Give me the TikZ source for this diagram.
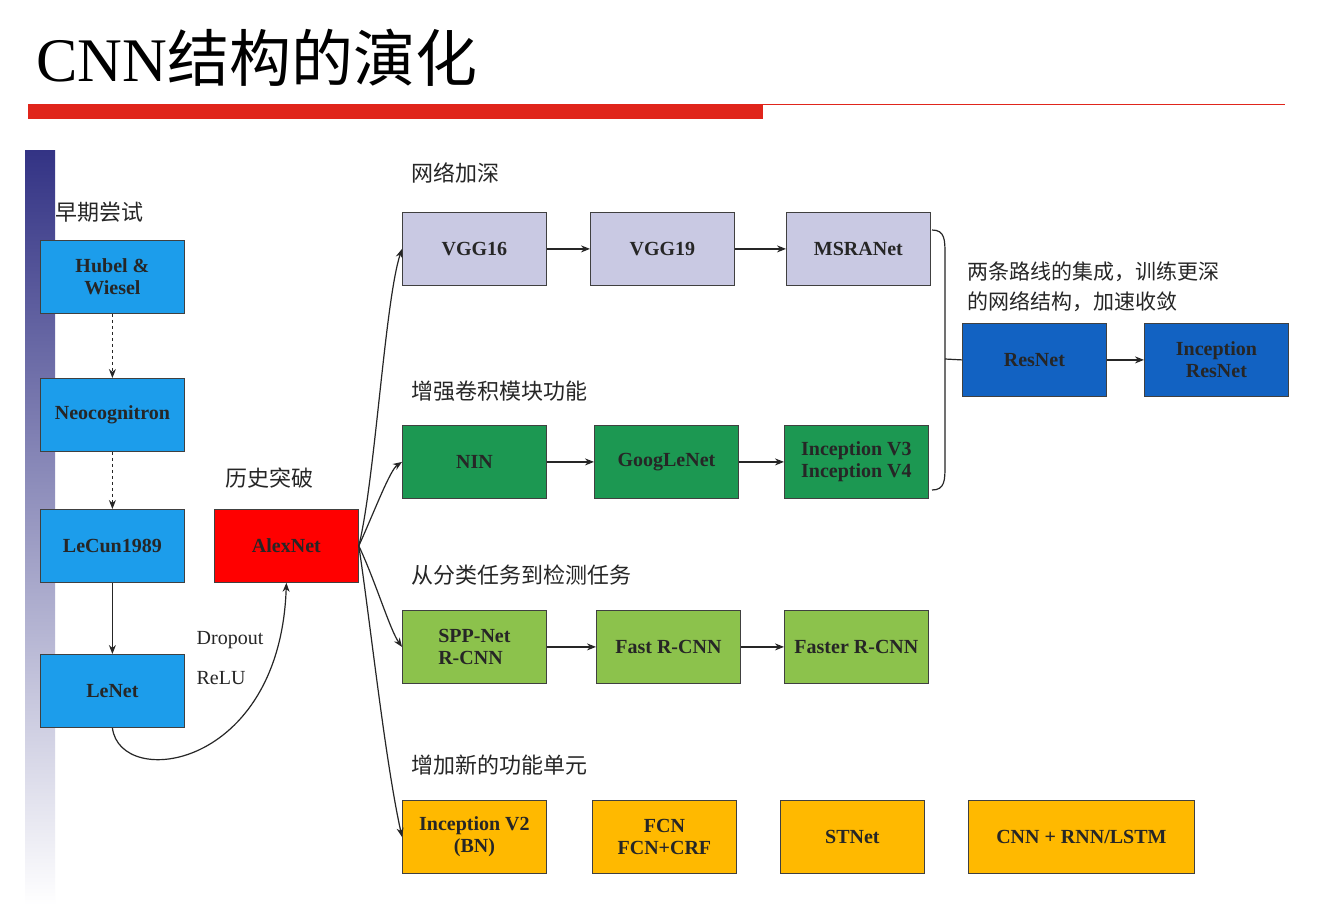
\documentclass[tikz,border=0pt]{standalone}
\usepackage{fontspec}
\setmainfont{Liberation Serif}
\newfontfamily\cjk{Noto Sans CJK SC}
\usetikzlibrary{arrows.meta}
\definecolor{lblue}{HTML}{1C9DEB}
\definecolor{lav}{HTML}{C9C9E3}
\definecolor{dgreen}{HTML}{1C9852}
\definecolor{lgreen}{HTML}{8CC24C}
\definecolor{orng}{HTML}{FFB900}
\definecolor{dblue}{HTML}{1262C2}
\definecolor{redbar}{HTML}{E0251B}
\begin{document}
\begin{tikzpicture}[x=1pt,y=-1pt,
  bx/.style={draw=black!75,line width=0.8pt,minimum width=144pt,minimum height=73pt,anchor=north west,align=center,inner sep=2pt,font=\fontsize{20}{22}\selectfont\bfseries,text=black!85},
  lab/.style={font=\cjk\fontsize{22}{26}\selectfont,text=black!85,anchor=west},
  arr/.style={-{Stealth[length=9pt,width=7pt]},line width=1.2pt,black!85}]
\useasboundingbox (0,0) rectangle (1324,908);
\fill[white] (0,0) rectangle (1324,908);
\node[anchor=west,font=\fontsize{62}{70}\selectfont,inner sep=0] (title) at (36,58) {CNN{\cjk 结构的演化}};
\fill[redbar] (28,104) rectangle (763,119);
\draw[redbar,line width=1pt] (763,104) -- (1285,104);
\shade[top color=blue!40!black!80,bottom color=white] (25,150) rectangle (55,905);
\node[lab] (t1) at (52,212) {早期尝试};
\node[bx,fill=lblue] (hub) at (40,240) {Hubel \&\\Wiesel};
\node[bx,fill=lblue] (neo) at (40,378) {Neocognitron};
\node[bx,fill=lblue] (lec) at (40,509) {LeCun1989};
\node[bx,fill=lblue] (len) at (40,654) {LeNet};
\draw[arr,dashed] (hub) -- (neo);
\draw[arr,dashed] (neo) -- (lec);
\draw[arr] (lec) -- (len);
\node[lab] (t2) at (222,478) {历史突破};
\node[bx,fill=red] (alex) at (214,509) {AlexNet};
\draw[arr] (len.south) .. controls (120,790) and (280,770) .. (alex.south);
\node[font=\fontsize{20}{22}\selectfont,text=black!85] (d) at (230,640) {Dropout};
\node[font=\fontsize{20}{22}\selectfont,text=black!85] (r) at (221,678) {ReLU};
\node[lab] (t3) at (408,173) {网络加深};
\node[bx,fill=lav] (vgg16) at (402,212) {VGG16};
\node[bx,fill=lav] (vgg19) at (590,212) {VGG19};
\node[bx,fill=lav] (msra) at (786,212) {MSRANet};
\node[lab] (t4) at (408,391) {增强卷积模块功能};
\node[bx,fill=dgreen] (nin) at (402,425) {NIN};
\node[bx,fill=dgreen] (goog) at (594,425) {GoogLeNet};
\node[bx,fill=dgreen] (incv) at (784,425) {Inception V3\\Inception V4};
\node[lab] (t5) at (408,575) {从分类任务到检测任务};
\node[bx,fill=lgreen,align=left] (spp) at (402,610) {SPP-Net\\R-CNN};
\node[bx,fill=lgreen] (fast) at (596,610) {Fast R-CNN};
\node[bx,fill=lgreen] (faster) at (784,610) {Faster R-CNN};
\node[lab] (t6) at (408,765) {增加新的功能单元};
\node[bx,fill=orng] (inc2) at (402,800) {Inception V2\\(BN)};
\node[bx,fill=orng] (fcn) at (592,800) {FCN\\FCN+CRF};
\node[bx,fill=orng] (st) at (780,800) {STNet};
\node[bx,fill=orng,minimum width=226pt] (rnn) at (968,800) {CNN + RNN/LSTM};
\node[bx,fill=dblue] (res) at (962,323) {ResNet};
\node[bx,fill=dblue] (incres) at (1144,323) {Inception\\ResNet};
\node[lab,anchor=north west,align=left,font=\cjk\fontsize{21}{30}\selectfont] (t7) at (964,258) {两条路线的集成，训练更深\\的网络结构，加速收敛};
\draw[arr] (vgg16) -- (vgg19); \draw[arr] (vgg19) -- (msra);
\draw[arr] (nin) -- (goog); \draw[arr] (goog) -- (incv);
\draw[arr] (spp) -- (fast); \draw[arr] (fast) -- (faster);
\draw[arr] (res) -- (incres);
\coordinate (b1) at (932,230);
\coordinate (b2) at (932,490);
\draw[line width=1.2pt,black!85] (b1) .. controls (945,230) and (945,240) .. (945,255) -- (945,465) .. controls (945,480) and (945,490) .. (b2);
\coordinate (bm) at (945,359);
\draw[line width=1.2pt,black!85] (bm) -- (res.west);
\draw[arr] (alex.east) .. controls (375,480) and (385,300) .. (vgg16.west);
\draw[arr] (alex.east) .. controls (375,510) and (390,470) .. (nin.west);
\draw[arr] (alex.east) .. controls (375,580) and (390,630) .. (spp.west);
\draw[arr] (alex.east) .. controls (370,620) and (385,760) .. (inc2.west);
\end{tikzpicture}
\end{document}
